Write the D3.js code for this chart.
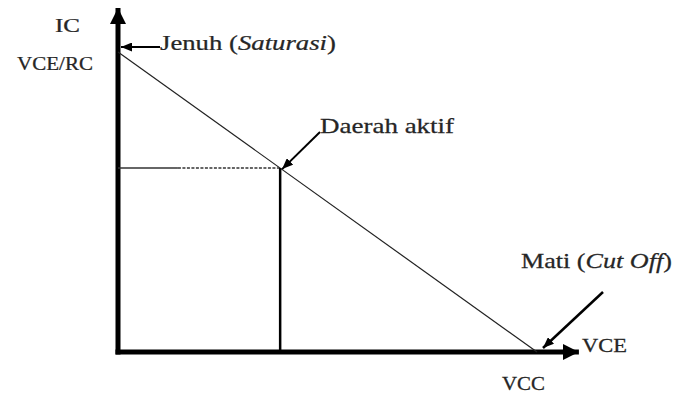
<!DOCTYPE html>
<html>
<head>
<meta charset="utf-8">
<script src="https://cdn.jsdelivr.net/npm/d3@7"></script>
<style>
  body { margin: 0; background: #fff; }
  text, tspan { font-family: "Liberation Serif", serif; fill: #262626; stroke: #262626; stroke-width: 0.25; }
</style>
</head>
<body>
<div id="chart"></div>
<script>
// Transistor DC load line (garis beban)

const width = 678;
const height = 406;

// data, in units of VCC (x) and VCC/RC (y)
const loadLine = [[0, 1], [1, 0]];
const qPoint = [0.387, 0.613];
const axisEnd = { x: 1.1, y: 1.147 };
const dashStart = 0.143;   // where the solid part of the Q line stops

const axisLabels = ["IC", "VCE/RC", "VCE", "VCC"];
const regionLabels = [
  [{ t: "Jenuh (" }, { t: "Saturasi", i: true }, { t: ")" }],
  [{ t: "Daerah aktif" }],
  [{ t: "Mati (" }, { t: "Cut Off", i: true }, { t: ")" }]
];

const svg = d3.select("#chart")
  .append("svg")
  .attr("width", width)
  .attr("height", height);

const x = d3.scaleLinear().domain([0, 1]).range([118, 537]);
const y = d3.scaleLinear().domain([0, 1]).range([352, 52]);

const defs = svg.append("defs");
const marker = (id, w, h) => {
  defs.append("marker")
    .attr("id", id)
    .attr("viewBox", `0 0 ${w} ${h}`)
    .attr("refX", w).attr("refY", h / 2)
    .attr("markerWidth", w).attr("markerHeight", h)
    .attr("markerUnits", "userSpaceOnUse")
    .attr("orient", "auto")
    .append("path")
    .attr("d", `M0,0 L${w},${h / 2} L0,${h} Z`)
    .attr("fill", "#000");
};
marker("axisHead", 16, 16);
marker("noteHead", 11, 9);

///////////////// axes /////////////////
svg.append("line")
  .attr("x1", x(0)).attr("y1", y(0) + 2.5)
  .attr("x2", x(0)).attr("y2", y(axisEnd.y))
  .attr("stroke", "#000").attr("stroke-width", 5)
  .attr("marker-end", "url(#axisHead)");

svg.append("line")
  .attr("x1", x(0) - 2.5).attr("y1", y(0))
  .attr("x2", x(axisEnd.x)).attr("y2", y(0))
  .attr("stroke", "#000").attr("stroke-width", 5)
  .attr("marker-end", "url(#axisHead)");

///////////////// load line /////////////////
svg.append("path")
  .datum(loadLine)
  .attr("fill", "none")
  .attr("stroke", "#222")
  .attr("stroke-width", 1.2)
  .attr("d", d3.line().x(d => x(d[0])).y(d => y(d[1])));

// Q point projections
svg.append("line")
  .attr("x1", x(0)).attr("y1", y(qPoint[1]))
  .attr("x2", x(dashStart)).attr("y2", y(qPoint[1]))
  .attr("stroke", "#333").attr("stroke-width", 1.5);
svg.append("line")
  .attr("x1", x(dashStart)).attr("y1", y(qPoint[1]))
  .attr("x2", x(qPoint[0])).attr("y2", y(qPoint[1]))
  .attr("stroke", "#333").attr("stroke-width", 1.5)
  .attr("stroke-dasharray", "3,1.5");
svg.append("line")
  .attr("x1", x(qPoint[0])).attr("y1", y(qPoint[1]))
  .attr("x2", x(qPoint[0])).attr("y2", y(0))
  .attr("stroke", "#000").attr("stroke-width", 2.5);

///////////////// annotation arrows /////////////////
const note = (x1, y1, x2, y2, w) => svg.append("line")
  .attr("x1", x1).attr("y1", y1).attr("x2", x2).attr("y2", y2)
  .attr("stroke", "#000").attr("stroke-width", w)
  .attr("marker-end", "url(#noteHead)");

note(x(0) + 42, y(1) - 5, x(0) + 3, y(1) - 5, 2);
note(320, 132, x(qPoint[0]) + 2, y(qPoint[1]) + 1, 2);
note(603, 292, x(1) + 6, y(0) - 4, 2.5);

///////////////// text /////////////////
// draw a label and stretch it to the width it has in the picture
const label = (parts, x0, base, size, w) => {
  const t = svg.append("text")
    .attr("font-family", "Liberation Serif")
    .attr("font-size", size);
  parts.forEach(p => t.append("tspan")
    .attr("font-family", "Liberation Serif")
    .attr("font-style", p.i ? "italic" : "normal")
    .text(p.t));
  const bw = t.node().getBBox().width;
  t.attr("transform", `translate(${x0},${base}) scale(${w / bw},1)`);
  return t;
};

label([{ t: axisLabels[0] }], 55, 32, 18, 25);
label([{ t: axisLabels[1] }], 17, 70, 18, 76);
label([{ t: axisLabels[2] }], 582, 352, 18, 45);
label([{ t: axisLabels[3] }], 502, 390, 18, 43);

label(regionLabels[0], 160, 50, 22, 176);
label(regionLabels[1], 320, 133, 22, 135);
label(regionLabels[2], 521, 268, 22, 151);
</script>
</body>
</html>
